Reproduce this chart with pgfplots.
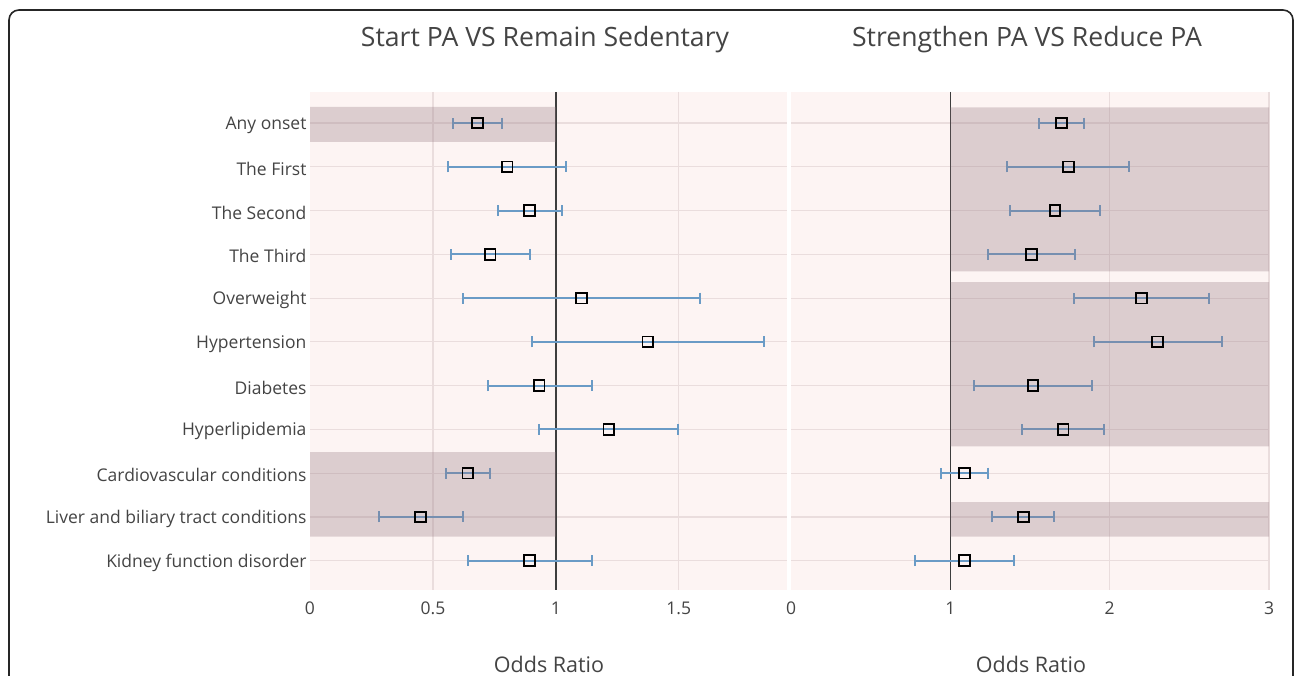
\documentclass[border=0pt]{standalone}
\usepackage{pgfplots}
\pgfplotsset{compat=1.18}
\usepackage{pgfplotstable}
\usepackage{fontspec}
\setmainfont{Open Sans}
\definecolor{txt}{HTML}{444444}
\definecolor{bgpink}{RGB}{253,244,243}
\definecolor{gridc}{RGB}{234,221,221}
\definecolor{shade}{RGB}{146,117,126}
\definecolor{barc}{RGB}{106,155,198}

\pgfplotstableread{
row or lo hi
0 0.682 0.581 0.782
1 0.802 0.561 1.043
2 0.893 0.763 1.024
3 0.733 0.573 0.893
4 1.104 0.621 1.587
5 1.374 0.901 1.846
6 0.932 0.724 1.145
7 1.215 0.932 1.495
8 0.642 0.552 0.734
9 0.450 0.280 0.622
10 0.893 0.642 1.145
}\lefttab

\pgfplotstableread{
row or lo hi
0 1.697 1.556 1.837
1 1.741 1.358 2.120
2 1.657 1.377 1.942
3 1.509 1.239 1.781
4 2.200 1.779 2.623
5 2.300 1.900 2.702
6 1.519 1.148 1.890
7 1.708 1.450 1.967
8 1.088 0.939 1.239
9 1.460 1.264 1.649
10 1.088 0.778 1.400
}\righttab

\pgfplotsset{
  forest/.style={
    scale only axis,
    height=498pt,
    anchor=south west,
    y dir=reverse,
    ymin=-0.71, ymax=10.67,
    axis line style={draw=none},
    axis background/.style={fill=bgpink},
    major tick length=0pt,
    grid=major,
    grid style={gridc, line width=1.2pt},
    ytick={0,...,10},
    tick label style={font=\fontsize{17.5}{20}\selectfont, text=txt},
    yticklabel style={yshift=-2pt},
    xticklabel style={yshift=-8pt},
    extra x ticks={0},
    extra x tick style={grid=none, major tick length=0pt},
    /pgf/number format/assume math mode=true,
    clip=false,
  },
  ebar/.style={
    draw=none, mark=none, forget plot,
    error bars/.cd, x dir=both, x explicit,
    error mark=|,
    error bar style={line width=2pt, barc},
    error mark options={line width=2pt, mark size=5.5pt, barc},
  },
  sq/.style={only marks, mark=square, mark size=5.3pt, mark options={line width=1.8pt, black}},
  shd/.style={fill=shade, fill opacity=0.3, draw=none, forget plot},
  oneline/.style={draw=txt!90!black, line width=1.3pt, forget plot},
}

\begin{document}
\begin{tikzpicture}
\path[use as bounding box] (0pt,0pt) rectangle (1295pt,676pt);
\draw[line width=1.6pt, black!85, rounded corners=10pt] (9pt,-30pt) -- (9pt,666pt) -- (1293pt,666pt) -- (1293pt,-30pt);

\begin{axis}[forest, at={(310pt,86pt)}, width=477pt,
  xmin=0, xmax=1.94, xtick={0.5,1,1.5}, xticklabels={0.5,1,1.5},
  yticklabels={Any onset,The First,The Second,The Third,Overweight,Hypertension,Diabetes,Hyperlipidemia,Cardiovascular conditions,Liver and biliary tract conditions,Kidney function disorder},
]
\addplot[oneline] coordinates {(1,-0.71) (1,10.67)};
\addplot[ebar] table[x=or, y=row, x error plus expr=\thisrow{hi}-\thisrow{or}, x error minus expr=\thisrow{or}-\thisrow{lo}] {\lefttab};
\addplot[shd] coordinates {(0,-0.37) (1,-0.37) (1,0.43) (0,0.43) (0,-0.37)};
\addplot[shd] coordinates {(0,7.52) (1,7.52) (1,9.45) (0,9.45) (0,7.52)};
\addplot[sq] table[x=or, y=row] {\lefttab};
\end{axis}

\begin{axis}[forest, at={(791pt,86pt)}, width=478pt,
  xmin=0, xmax=3, xtick={1,2,3},
  yticklabels={},
]
\addplot[oneline] coordinates {(1,-0.71) (1,10.67)};
\addplot[ebar] table[x=or, y=row, x error plus expr=\thisrow{hi}-\thisrow{or}, x error minus expr=\thisrow{or}-\thisrow{lo}] {\righttab};
\addplot[shd] coordinates {(1,-0.36) (3,-0.36) (3,3.39) (1,3.39) (1,-0.36)};
\addplot[shd] coordinates {(1,3.635) (3,3.635) (3,7.39) (1,7.39) (1,3.635)};
\addplot[shd] coordinates {(1,8.66) (3,8.66) (3,9.45) (1,9.45) (1,8.66)};
\addplot[sq] table[x=or, y=row] {\righttab};
\end{axis}

\node[text=txt, font=\fontsize{26.6}{30}\selectfont] at (545pt,636pt) {Start PA VS Remain Sedentary};
\node[text=txt, font=\fontsize{26.6}{30}\selectfont] at (1027pt,636pt) {Strengthen PA VS Reduce PA};
\node[text=txt, font=\fontsize{21.5}{25}\selectfont] at (549pt,12pt) {Odds Ratio};
\node[text=txt, font=\fontsize{21.5}{25}\selectfont] at (1031pt,12pt) {Odds Ratio};
\end{tikzpicture}
\end{document}
